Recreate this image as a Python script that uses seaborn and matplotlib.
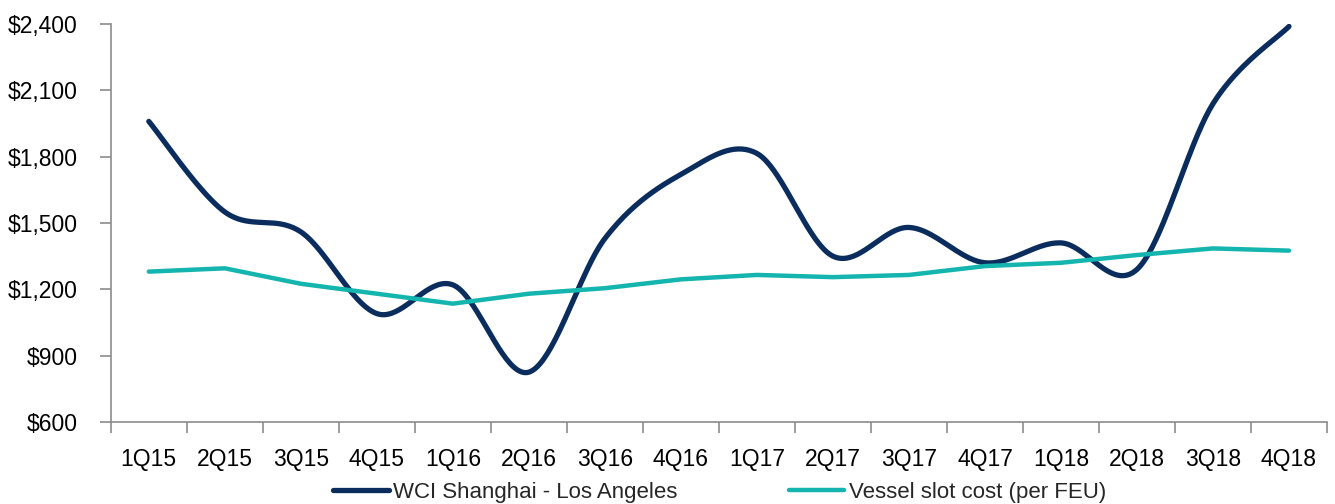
import numpy as np
import pandas as pd
import matplotlib
matplotlib.use("Agg")
import matplotlib.pyplot as plt
import seaborn as sns
from matplotlib.ticker import FixedLocator, FuncFormatter

quarters = ["1Q15", "2Q15", "3Q15", "4Q15", "1Q16", "2Q16", "3Q16", "4Q16",
            "1Q17", "2Q17", "3Q17", "4Q17", "1Q18", "2Q18", "3Q18", "4Q18"]
wci = [1960, 1550, 1460, 1090, 1220, 825, 1430, 1720,
       1815, 1350, 1480, 1320, 1410, 1290, 2040, 2390]
slot = [1280, 1295, 1225, 1180, 1135, 1180, 1205, 1245,
        1265, 1255, 1265, 1305, 1320, 1355, 1385, 1375]
yticks = [600, 900, 1200, 1500, 1800, 2100, 2400]

NAVY = "#0B2D5E"
TEAL = "#14B4AF"
GREY = "#8C8C8C"

sns.set_theme(style="white")
plt.rcParams["font.family"] = ["Liberation Sans", "DejaVu Sans"]


def excel_smooth(xs, ys, n=40):
    xs = np.asarray(xs, float)
    ys = np.asarray(ys, float)
    P = np.column_stack([xs, ys])
    out = []
    for i in range(len(P) - 1):
        p0 = P[i - 1] if i > 0 else P[i]
        p1 = P[i]
        p2 = P[i + 1]
        p3 = P[i + 2] if i + 2 < len(P) else P[i + 1]
        c1 = p1 + (p2 - p0) / 6.0
        c2 = p2 - (p3 - p1) / 6.0
        t = np.linspace(0, 1, n, endpoint=(i == len(P) - 2))[:, None]
        seg = ((1 - t) ** 3) * p1 + 3 * ((1 - t) ** 2) * t * c1 + 3 * (1 - t) * t ** 2 * c2 + t ** 3 * p2
        out.append(seg)
    arr = np.vstack(out)
    return arr[:, 0], arr[:, 1]


x = np.arange(len(quarters))
sx, sy = excel_smooth(x, wci)
df_wci = pd.DataFrame({"x": sx, "y": sy})
df_slot = pd.DataFrame({"x": x, "y": slot})

fig = plt.figure(figsize=(13.35, 5.04), dpi=100)
ax = fig.add_axes([0.083, 0.163, 0.911, 0.789])

sns.lineplot(data=df_wci, x="x", y="y", ax=ax, color=NAVY, lw=3.8,
             sort=False, estimator=None, solid_capstyle="round",
             label="WCI Shanghai - Los Angeles")
sns.lineplot(data=df_slot, x="x", y="y", ax=ax, color=TEAL, lw=3.2,
             sort=False, estimator=None, solid_capstyle="round",
             label="Vessel slot cost (per FEU)")

ax.set_xlim(-0.5, len(quarters) - 0.5)
ax.set_ylim(600, 2400)
ax.set_xlabel("")
ax.set_ylabel("")

ax.set_yticks(yticks)
ax.yaxis.set_major_formatter(FuncFormatter(lambda v, p: f"${v:,.0f}"))
ax.set_xticks(x)
ax.set_xticklabels(quarters)
ax.xaxis.set_minor_locator(FixedLocator(np.arange(-0.5, len(quarters), 1.0)))

for s in ["top", "right"]:
    ax.spines[s].set_visible(False)
for s in ["left", "bottom"]:
    ax.spines[s].set_color(GREY)
    ax.spines[s].set_linewidth(1.2)

ax.tick_params(axis="y", which="major", direction="out", length=8, width=1.2,
               color=GREY, labelsize=16.5, pad=16, left=True)
ax.tick_params(axis="x", which="major", length=0, labelsize=16.5, pad=19)
ax.tick_params(axis="x", which="minor", direction="out", length=8, width=1.2,
               color=GREY, bottom=True)
for lab in ax.get_xticklabels() + ax.get_yticklabels():
    lab.set_color("black")

ax.get_legend().remove()
handles, labels = ax.get_legend_handles_labels()
leg = fig.legend(handles, labels, loc="lower center", ncol=2,
                 bbox_to_anchor=(0.539, -0.037), frameon=False, fontsize=16,
                 handlelength=2.5, handletextpad=0.2, columnspacing=5.0)

fig.savefig("out.png", dpi=100)
